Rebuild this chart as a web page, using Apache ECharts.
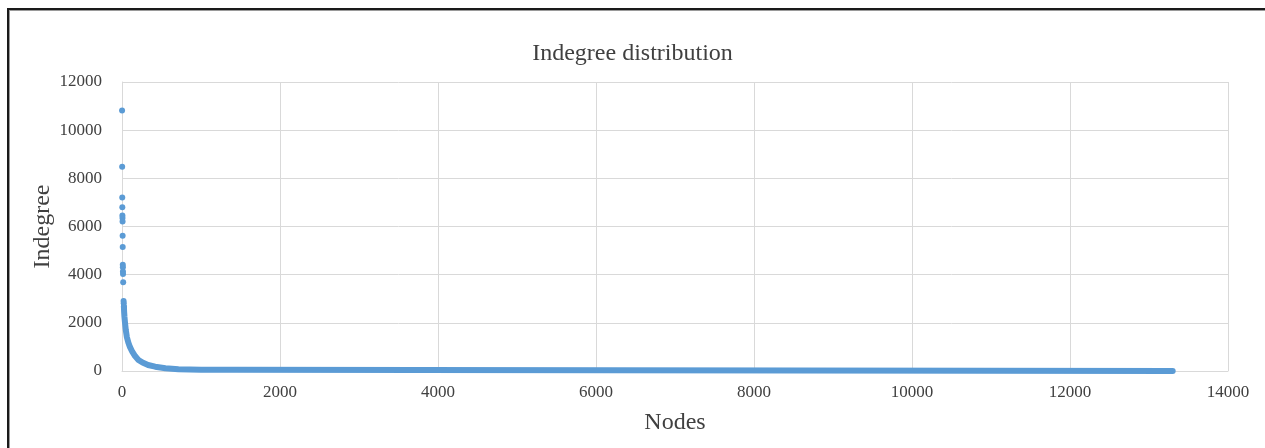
<!DOCTYPE html>
<html>
<head>
<meta charset="utf-8">
<script src="https://cdn.jsdelivr.net/npm/echarts@6/dist/echarts.min.js"></script>
<style>
  html, body { margin: 0; padding: 0; background: #fff; }
  #wrap { position: relative; width: 1265px; height: 448px; overflow: hidden; }
  #chart { position: absolute; left: 0; top: 0; width: 1265px; height: 448px; }
  #frame { position: absolute; left: 7px; top: 8px; width: 1300px; height: 500px;
           border-top: 2px solid #1a1a1a; border-left: 2px solid #1a1a1a;
           box-shadow: 1px 1px 0 #9a9a9a inset; pointer-events: none; }
</style>
</head>
<body>
<div id="wrap">
  <div id="chart"></div>
  <div id="frame"></div>
</div>
<script>
// Top-ranked nodes visible as separate dots: [rank, indegree]
const headPoints = [
  [1, 10820], [2, 8480], [3, 7200], [4, 6800], [5, 6460], [6, 6350], [7, 6210],
  [8, 5620], [9, 5150], [10, 4410], [11, 4310], [12, 4130], [13, 4030],
  [15, 3690], [20, 2910], [22, 2810], [24, 2670]
];
// Dense part of the distribution, read along the band of overlapping dots
const bodyPoints = [
  [24, 2670], [27, 2450], [31, 2250], [38, 2000], [48, 1700], [62, 1400],
  [80, 1180], [100, 1000], [130, 800], [165, 620], [208, 460], [260, 350],
  [330, 250], [420, 180], [550, 115], [715, 75], [1000, 55], [1400, 50],
  [1410, 0], [13300, 0]
];
const xTicks = [0, 2000, 4000, 6000, 8000, 10000, 12000, 14000];
const yTicks = [0, 2000, 4000, 6000, 8000, 10000, 12000];

const serif = 'Liberation Serif';
const blue = '#5B9BD5';
const plain = v => String(v);
const chart = echarts.init(document.getElementById('chart'));
chart.setOption({
  animation: false,
  title: {
    text: 'Indegree distribution',
    left: 'center',
    top: 37,
    textStyle: { fontFamily: serif, fontSize: 24, fontWeight: 'normal', color: '#404040' }
  },
  grid: { left: 122, right: 37, top: 82, bottom: 77 },
  xAxis: {
    type: 'value',
    min: xTicks[0], max: xTicks[xTicks.length - 1], interval: 2000,
    name: 'Nodes', nameLocation: 'middle', nameGap: 40, nameMoveOverlap: false,
    nameTextStyle: { fontFamily: serif, fontSize: 24, color: '#404040' },
    axisLine: { show: true, lineStyle: { color: '#d9d9d9' } },
    axisTick: { show: false },
    axisLabel: { fontFamily: serif, fontSize: 17, color: '#404040', margin: 13, formatter: plain },
    splitLine: { show: true, lineStyle: { color: '#d9d9d9' } }
  },
  yAxis: {
    type: 'value',
    min: yTicks[0], max: yTicks[yTicks.length - 1], interval: 2000,
    name: 'Indegree', nameLocation: 'middle', nameGap: 67, nameMoveOverlap: false,
    nameTextStyle: { fontFamily: serif, fontSize: 24, color: '#404040' },
    axisLine: { show: true, lineStyle: { color: '#d9d9d9' } },
    axisTick: { show: false },
    axisLabel: { fontFamily: serif, fontSize: 17, color: '#404040', margin: 20, formatter: plain },
    splitLine: { show: true, lineStyle: { color: '#d9d9d9' } }
  },
  series: [
    {
      type: 'line',
      data: bodyPoints,
      showSymbol: false,
      symbol: 'none',
      lineStyle: { color: blue, width: 6, cap: 'round', join: 'round' },
      z: 2
    },
    {
      type: 'scatter',
      data: headPoints,
      symbolSize: 6,
      itemStyle: { color: blue, opacity: 1 },
      z: 3
    }
  ]
});
</script>
</body>
</html>
